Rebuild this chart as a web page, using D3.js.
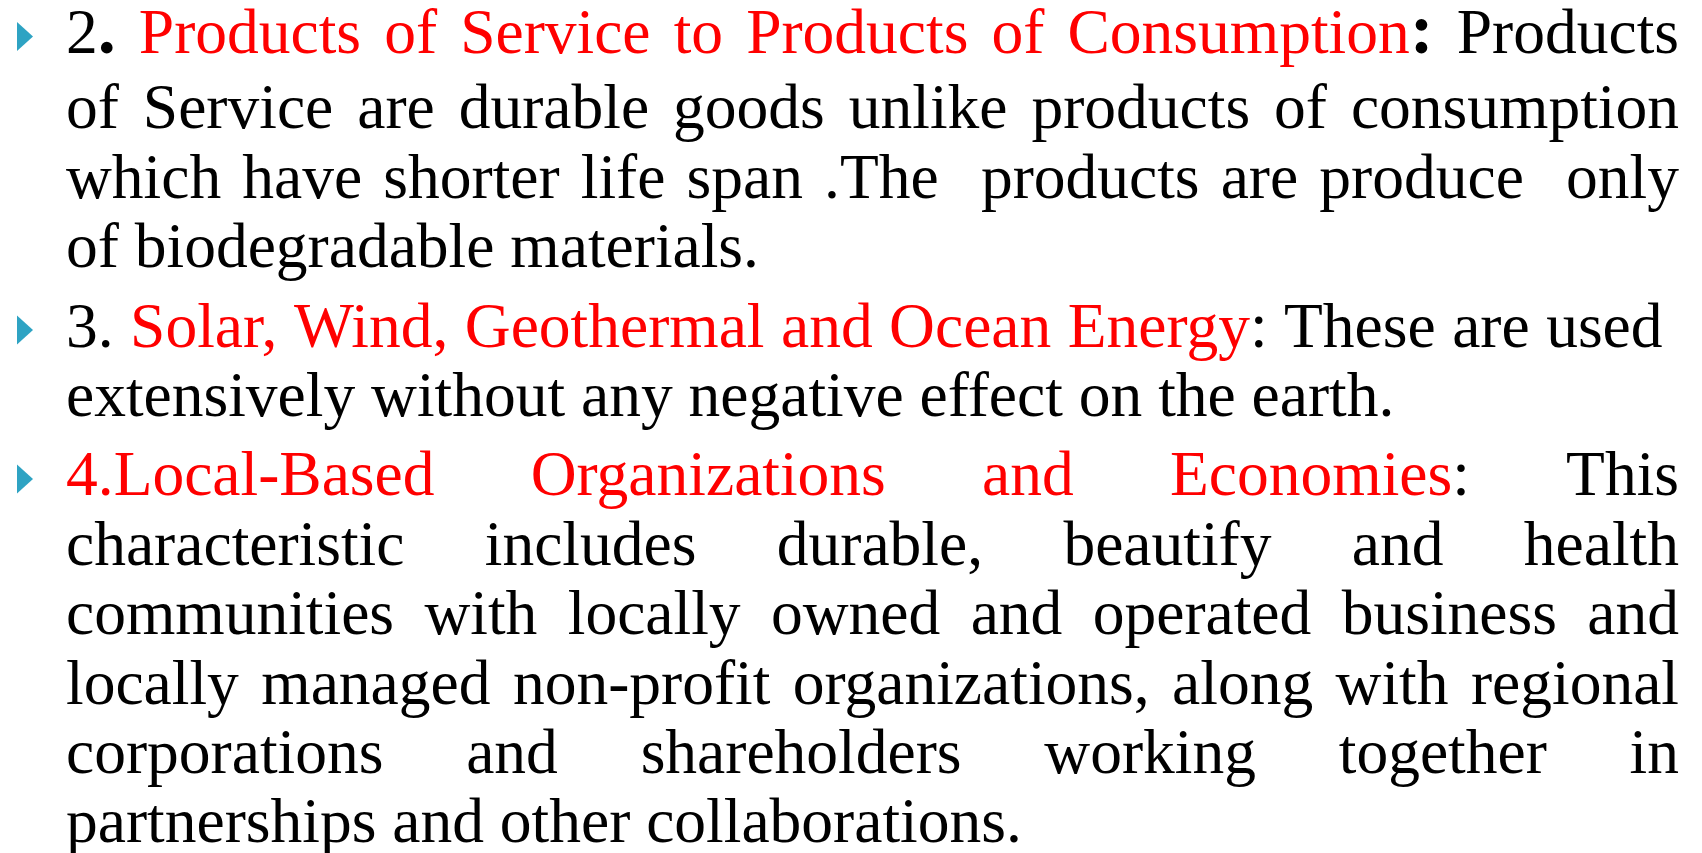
<!DOCTYPE html>
<html>
<head>
<meta charset="utf-8">
<script src="https://cdn.jsdelivr.net/npm/d3@7"></script>
<style>
  html, body { margin: 0; padding: 0; background: #ffffff; overflow: hidden; }
  svg { display: block; }
</style>
</head>
<body>
<script>
// ---- content (segments: [text, style]; k = black, kb = black bold, r = red) ----
const paragraph1 = [
  { justify: true,  segs: [["2", "k"], [".", "kb"], [" ", "k"], ["Products of Service to Products of Consumption", "r"], [":", "kb"], [" Products", "k"]] },
  { justify: true,  segs: [["of Service are durable goods unlike products of consumption", "k"]] },
  { justify: true,  segs: [["which have shorter life span .The  products are produce  only", "k"]] },
  { justify: false, segs: [["of biodegradable materials.", "k"]] }
];
const paragraph2 = [
  { justify: true,  segs: [["3. ", "k"], ["Solar, Wind, Geothermal and Ocean Energy", "r"], [": These are used ", "k"]] },
  { justify: false, segs: [["extensively without any negative effect on the earth.", "k"]] }
];
const paragraph3 = [
  { justify: true,  segs: [["4.Local-Based Organizations and Economies", "r"], [":", "k"], [" This", "k"]] },
  { justify: true,  segs: [["characteristic includes durable, beautify and health", "k"]] },
  { justify: true,  segs: [["communities with locally owned and operated business and", "k"]] },
  { justify: true,  segs: [["locally managed non-profit organizations, along with regional", "k"]] },
  { justify: true,  segs: [["corporations and shareholders working together in", "k"]] },
  { justify: false, segs: [["partnerships and other collaborations.", "k"]] }
];
const paragraphs = [paragraph1, paragraph2, paragraph3];

// ---- layout ----
const W = 1702, H = 853;
const fontSize = 63.5;
const boldSize = 72;
const textLeft = 66, textRight = 1679;
const firstBaseline = 53, linePitch = 69.4, paraGap = 10, firstLineExtra = 6;
const bulletColor = "#2ea3c3";
const styleFill = { k: "#000000", kb: "#000000", r: "#ff0000" };

const svg = d3.select("body").append("svg").attr("width", W).attr("height", H);
svg.append("rect").attr("width", W).attr("height", H).attr("fill", "#ffffff");

const gText = svg.append("g");
const spaceW = fontSize * 0.25;

let lineIdx = 0;
paragraphs.forEach((para, pi) => {
  para.forEach((line, li) => {
    const y = firstBaseline + lineIdx * linePitch + pi * paraGap + (lineIdx >= 1 ? firstLineExtra : 0);
    if (li === 0) {
      const tri = d3.path();
      tri.moveTo(17, y - 31);
      tri.lineTo(33, y - 16.5);
      tri.lineTo(17, y - 2);
      tri.closePath();
      svg.append("path").attr("d", tri.toString()).attr("fill", bulletColor);
    }
    const words = [[]];
    line.segs.forEach(([t, s]) => {
      t.split(" ").forEach((p, i) => {
        if (i > 0) words.push([]);
        if (p) words[words.length - 1].push({ t: p, s: s });
      });
    });
    const nodes = words.map(w => {
      const te = gText.append("text").attr("y", y)
        .style("font-family", "\"Liberation Serif\"")
        .style("font-size", fontSize + "px");
      w.forEach(part => {
        te.append("tspan")
          .attr("fill", styleFill[part.s])
          .style("font-weight", part.s === "kb" ? "bold" : "normal")
          .style("font-size", part.s === "kb" ? boldSize + "px" : null)
          .text(part.t);
      });
      return { sel: te, w: w.length ? te.node().getComputedTextLength() : 0 };
    });
    const total = d3.sum(nodes, d => d.w);
    const nGaps = nodes.length - 1;
    let gap = spaceW;
    if (line.justify && nGaps > 0) gap = (textRight - textLeft - total) / nGaps;
    let x = textLeft;
    nodes.forEach(n => {
      n.sel.attr("x", x);
      x += n.w + gap;
    });
    lineIdx++;
  });
});
</script>
</body>
</html>
